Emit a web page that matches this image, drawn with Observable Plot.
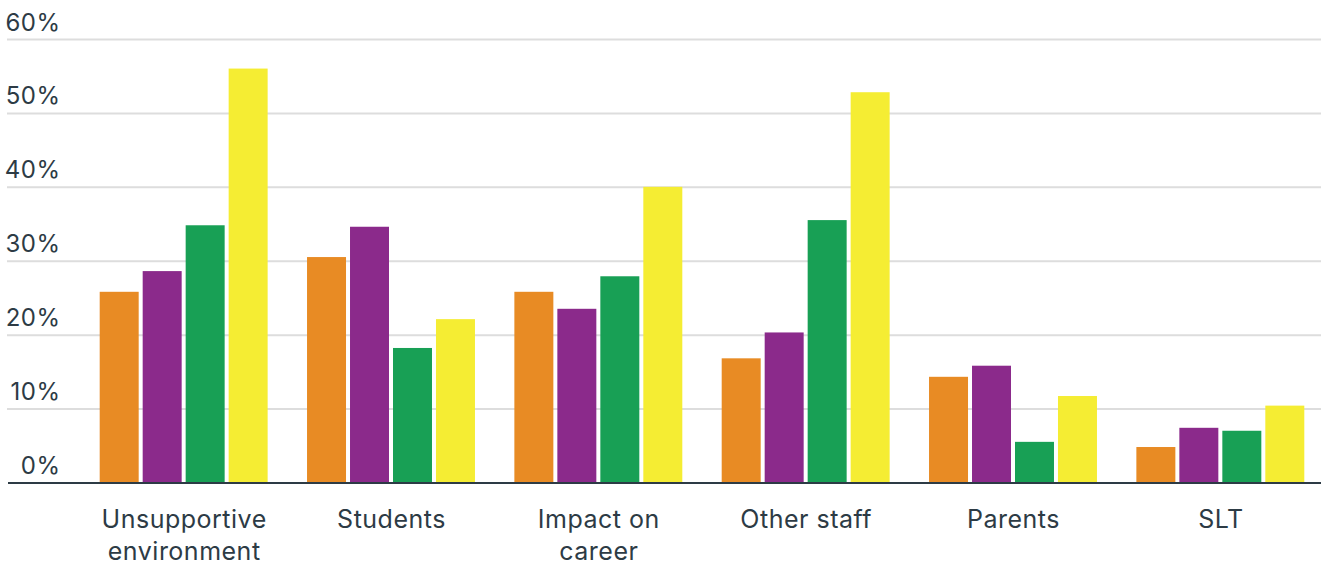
<!DOCTYPE html>
<html>
<head>
<meta charset="utf-8">
<script src="https://cdn.jsdelivr.net/npm/d3@7"></script>
<script src="https://cdn.jsdelivr.net/npm/@observablehq/plot@0.6"></script>
<style>
  html, body { margin: 0; padding: 0; background: #ffffff; }
  #chart { position: relative; width: 1324px; height: 565px; }
  #chart svg { position: absolute; left: 0; top: 0; }
  #chart svg text { letter-spacing: 0.5px; }
</style>
</head>
<body>
<div id="chart"></div>
<script>
// Categories along the bottom and their wrapped display labels
const categories = ["Unsupportive environment", "Students", "Impact on career", "Other staff", "Parents", "SLT"];
const categoryLabels = ["Unsupportive\nenvironment", "Students", "Impact on\ncareer", "Other staff", "Parents", "SLT"];

// Four series per category (percent)
const series = ["Series 1", "Series 2", "Series 3", "Series 4"];
const seriesColors = ["#e88b24", "#8b2a8b", "#18a055", "#f5ed33"];
const series1 = [25.8, 30.5, 25.8, 16.8, 14.3, 4.8];
const series2 = [28.6, 34.6, 23.5, 20.3, 15.8, 7.4];
const series3 = [34.8, 18.2, 27.9, 35.5, 5.5, 7.0];
const series4 = [56.0, 22.1, 40.0, 52.8, 11.7, 10.4];

// Y axis ticks (percent)
const yTicks = [0, 10, 20, 30, 40, 50, 60];

const seriesValues = [series1, series2, series3, series4];
const rows = categories.flatMap((category, i) =>
  series.map((s, j) => ({ category, series: s, value: seriesValues[j][i] }))
);

const ink = "#2d3b45";
const font = "Inter, 'Open Sans', sans-serif";

// Shared frame: every layer uses the same height and vertical scale
const frame = {
  width: 1324,
  height: 565,
  marginTop: 39,
  marginBottom: 82.5,
  y: { domain: [0, 60], axis: null },
  style: { fontFamily: font, fontSize: "24px", color: ink, background: "transparent" }
};

// Layer 1: full-width horizontal gridlines behind the bars
const gridLayer = Plot.plot({
  ...frame,
  marginLeft: 7,
  marginRight: 3,
  x: { axis: null },
  marks: [
    Plot.ruleY(yTicks.filter((t) => t > 0), { stroke: "#dddddd", strokeWidth: 2 })
  ]
});

// Layer 2: grouped bars, one facet per category
const barLayer = Plot.plot({
  ...frame,
  marginLeft: 80,
  marginRight: 0,
  fx: { domain: categories, paddingInner: 0.19, paddingOuter: 0.095, round: false, label: null },
  x: { domain: series, paddingInner: 0.093, paddingOuter: 0, round: false, axis: null },
  color: { domain: series, range: seriesColors },
  marks: [
    Plot.barY(rows, { fx: "category", x: "series", y: "value", fill: "series" }),
    Plot.axisFx({
      anchor: "bottom",
      tickSize: 0,
      tickPadding: 22,
      tickFormat: (d) => categoryLabels[categories.indexOf(d)],
      lineAnchor: "top",
      lineHeight: 1.28,
      fontSize: 25,
      fill: ink,
      label: null
    })
  ]
});

// Layer 3: zero baseline and percentage labels on top
const axisLayer = Plot.plot({
  ...frame,
  marginLeft: 8,
  marginRight: 3,
  x: { axis: null },
  marks: [
    Plot.ruleY([0], { stroke: ink, strokeWidth: 2 }),
    Plot.text(yTicks, {
      y: (d) => d,
      text: (d) => `${d}%`,
      frameAnchor: "left",
      textAnchor: "end",
      lineAnchor: "bottom",
      dx: 52,
      dy: -9,
      fill: ink,
      fontSize: 24
    })
  ]
});

const root = document.getElementById("chart");
root.appendChild(gridLayer);
root.appendChild(barLayer);
root.appendChild(axisLayer);
</script>
</body>
</html>
